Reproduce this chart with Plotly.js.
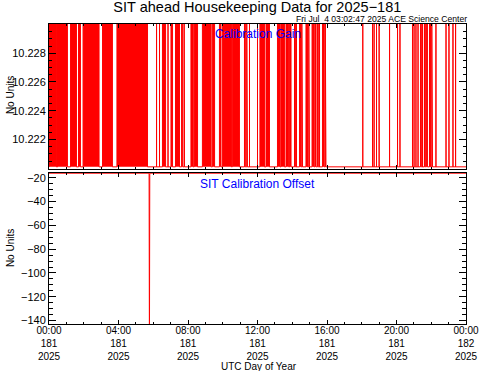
<!DOCTYPE html>
<html><head><meta charset="utf-8">
<script src="https://cdn.plot.ly/plotly-3.0.1.min.js"></script>
<style>html,body{margin:0;padding:0;background:#fff}#c{width:481px;height:371px}</style>
</head><body><div id="c"></div>
<script>
// Calibration Gain: intervals (UTC hours of day 181) where the gain sits at its high level
var gainStart = [0.00,0.49,1.24,1.70,1.96,3.08,3.91,6.19,6.36,6.53,6.85,7.02,7.28,7.63,7.78,8.17,8.35,8.83,9.40,9.81,9.99,10.55,11.25,11.38,11.54,12.00,12.14,12.49,13.15,13.35,13.64,13.85,14.13,14.24,14.42,14.55,14.79,14.95,15.14,15.30,15.45,15.57,15.74,15.90,18.06,18.62,18.71,18.85,19.00,19.60,20.06,20.20,20.92,21.01,21.12,21.24,21.38,21.50,21.61,21.72,21.90,22.03,22.27,22.85,23.02,23.25,23.40];
var gainEnd   = [0.43,1.06,1.58,1.81,2.88,3.65,5.67,6.19,6.36,6.71,6.85,7.11,7.51,7.70,7.80,8.30,8.55,9.33,9.53,9.90,10.50,10.96,11.30,11.42,11.54,12.00,12.40,12.69,13.30,13.55,13.80,13.93,14.18,14.24,14.50,14.59,14.88,14.99,15.25,15.37,15.50,15.57,15.84,15.94,18.06,18.62,18.71,18.85,19.00,19.60,20.06,20.20,20.92,21.01,21.12,21.24,21.43,21.50,21.66,21.78,21.96,22.07,22.27,22.85,23.02,23.25,23.40];
var gainLow = 10.2201, gainHigh = 10.2310;
var gainTicks = [10.222, 10.224, 10.226, 10.228];

// Calibration Offset samples
var offsetTimes  = [0.00, 5.76, 5.78, 5.80, 24.00];
var offsetValues = [-16.1, -16.1, -170, -16.1, -16.1];
var offsetTicks = [-140, -120, -100, -80, -60, -40, -20];

var tickHours = [0,4,8,12,16,20,24];
var tickText  = ['00:00<br>181<br>2025','04:00<br>181<br>2025','08:00<br>181<br>2025','12:00<br>181<br>2025','16:00<br>181<br>2025','20:00<br>181<br>2025','00:00<br>182<br>2025'];

var gx = [0], gy = [gainLow];
for (var i = 0; i < gainStart.length; i++) {
  gx.push(gainStart[i], gainStart[i], gainEnd[i], gainEnd[i]);
  gy.push(gainLow, gainHigh, gainHigh, gainLow);
}
gx.push(24); gy.push(gainLow);

var RED = '#ff0000';
var traces = [
  {x: gx, y: gy, xaxis: 'x', yaxis: 'y', mode: 'lines', fill: 'toself', fillcolor: RED,
   line: {color: RED, width: 1}, hoverinfo: 'skip', showlegend: false},
  {x: offsetTimes, y: offsetValues, xaxis: 'x2', yaxis: 'y2', mode: 'lines',
   line: {color: RED, width: 1}, hoverinfo: 'skip', showlegend: false}
];

var F = 'Liberation Sans, Arial, sans-serif';
var axBase = {showline: true, linecolor: '#000', linewidth: 1, mirror: 'allticks', ticks: 'inside',
  tickcolor: '#000', showgrid: false, zeroline: false, tickfont: {family: F, size: 11, color: '#000'}};

var layout = {
  width: 481, height: 371, paper_bgcolor: '#fff', plot_bgcolor: '#fff',
  margin: {l: 49, r: 15, t: 24, b: 47},
  font: {family: F, color: '#000'},
  title: {text: 'SIT ahead Housekeeping Data for 2025\u2212181', font: {family: F, size: 14.5, color: '#000'},
    x: 0.535, xanchor: 'center', y: 0.9825, yanchor: 'middle', yref: 'container'},
  xaxis: Object.assign({}, axBase, {domain: [0, 1], anchor: 'y', range: [0, 24], tickvals: tickHours,
    showticklabels: false, ticklen: 4, minor: {dtick: 1, ticklen: 2, ticks: 'inside', tickcolor: '#000'}}),
  yaxis: Object.assign({}, axBase, {domain: [0.5167, 1], anchor: 'x', range: [10.21995, 10.23003],
    tickvals: gainTicks, tickformat: '.3f', ticklen: 7,
    minor: {dtick: 0.0005, tick0: 10.222, ticklen: 3, ticks: 'inside', tickcolor: '#000'}}),
  xaxis2: Object.assign({}, axBase, {domain: [0, 1], anchor: 'y2', range: [0, 24], tickvals: tickHours,
    ticktext: tickText, ticklen: 4, ticklabelstandoff: -3, tickfont: {family: F, size: 10, color: '#000'},
    minor: {dtick: 1, ticklen: 2, ticks: 'inside', tickcolor: '#000'}}),
  yaxis2: Object.assign({}, axBase, {domain: [0, 0.505], anchor: 'x2', range: [-142.9, -15.5],
    tickvals: offsetTicks, ticklen: 7,
    minor: {dtick: 5, tick0: -140, ticklen: 4, ticks: 'inside', tickcolor: '#000'}}),
  annotations: [
    {text: 'Fri Jul  4 03:02:47 2025 ACE Science Center', xref: 'paper', yref: 'paper', x: 1.005, y: 1.0155,
     xanchor: 'right', yanchor: 'middle', showarrow: false, borderpad: 0, font: {family: F, size: 8.6, color: '#000'}},
    {text: 'Calibration Gain', xref: 'paper', yref: 'paper', x: 0.5, y: 0.9667, xanchor: 'center', yanchor: 'middle',
     showarrow: false, font: {family: F, size: 12, color: '#0000ff'}},
    {text: 'SIT Calibration Offset', xref: 'paper', yref: 'paper', x: 0.5, y: 0.4667, xanchor: 'center', yanchor: 'middle',
     showarrow: false, font: {family: F, size: 12, color: '#0000ff'}},
    {text: 'No Units', xref: 'paper', yref: 'paper', x: -0.0935, y: 0.763, xanchor: 'center', yanchor: 'middle',
     textangle: -90, showarrow: false, font: {family: F, size: 10, color: '#000'}},
    {text: 'No Units', xref: 'paper', yref: 'paper', x: -0.0935, y: 0.253, xanchor: 'center', yanchor: 'middle',
     textangle: -90, showarrow: false, font: {family: F, size: 10, color: '#000'}},
    {text: 'UTC Day of Year', xref: 'paper', yref: 'paper', x: 0.504, y: -0.143, xanchor: 'center', yanchor: 'middle',
     showarrow: false, font: {family: F, size: 10, color: '#000'}}
  ]
};
Plotly.newPlot('c', traces, layout, {displayModeBar: false, staticPlot: true});
</script></body></html>
